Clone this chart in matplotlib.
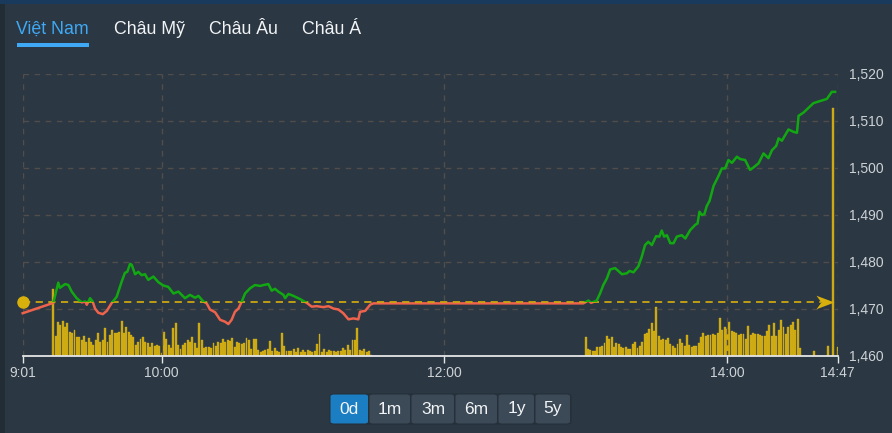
import numpy as np
import matplotlib
matplotlib.use("Agg")
import matplotlib.pyplot as plt
from matplotlib.patches import Rectangle, FancyBboxPatch
from matplotlib.path import Path

plt.rcParams['font.family'] = ['Liberation Sans', 'DejaVu Sans']

# ---------------- data ----------------
ref_price = 1471.4  # reference (previous close)

# minutes after 9:00 and index level
price_minutes = [1.0, 14.0, 16.1, 16.8, 19.0, 20.4, 21.8, 23.9, 26.1, 27.5, 28.2, 29.6, 30.7, 31.7,
                 33.1, 35.0, 36.7, 38.8, 40.9, 43.0, 44.4, 45.4, 46.6, 47.3, 48.7, 50.1, 51.5, 52.9,
                 54.3, 56.5, 58.6, 60.7, 62.8, 65.0, 67.1, 69.9, 72.0, 74.2, 75.6, 77.7, 79.1, 80.5,
                 82.7, 84.8, 86.9, 88.3, 89.7, 91.1, 92.6, 94.0, 95.4, 97.5, 99.6, 101.8, 103.2,
                 105.3, 106.7, 108.1, 109.5, 111.7, 112.4, 113.8, 115.9, 118.8, 121.6, 123.7, 125.8,
                 128.6, 130.8, 132.9, 135.0, 137.1, 139.3, 141.4, 143.5, 144.2, 146.4, 148.5, 149.9,
                 239.0, 241.2, 242.3, 244.7, 246.1, 247.5, 249.0, 250.4, 252.5, 255.4, 257.5, 258.6,
                 260.3, 262.4, 263.8, 265.2, 266.6, 268.1, 269.9, 271.3, 272.3, 273.3, 274.5, 275.9,
                 277.3, 278.7, 280.8, 282.3, 284.4, 286.5, 287.5, 288.3, 289.3, 290.4, 291.4, 292.6,
                 294.3, 296.4, 297.8, 299.2, 300.6, 302.1, 304.2, 305.6, 307.7, 309.8, 311.2, 313.4,
                 315.5, 317.6, 319.1, 320.9, 321.9, 323.3, 324.7, 326.1, 328.2, 329.7, 330.4, 332.5,
                 336.7, 342.4, 344.5, 345.9]
prices = [1469.1, 1471.3, 1475.6, 1474.5, 1475.3, 1475.1, 1473.7, 1472.3, 1471.4, 1471.6, 1470.9,
          1472.3, 1471.6, 1470.1, 1469.2, 1468.9, 1469.6, 1471.3, 1472.6, 1475.8, 1477.7, 1477.9,
          1479.6, 1479.4, 1477.4, 1477.9, 1477.2, 1477.4, 1476.2, 1476.9, 1475.7, 1475.0, 1474.7,
          1473.3, 1473.7, 1472.3, 1473.0, 1472.4, 1472.8, 1471.6, 1471.2, 1469.9, 1469.3, 1467.7,
          1467.3, 1466.8, 1467.7, 1469.4, 1470.1, 1471.6, 1473.3, 1474.4, 1475.1, 1474.9, 1475.1,
          1475.3, 1473.9, 1474.3, 1473.7, 1473.0, 1472.3, 1473.2, 1472.8, 1472.1, 1471.3, 1470.5,
          1470.6, 1470.4, 1470.6, 1470.1, 1469.9, 1469.1, 1467.8, 1468.0, 1467.8, 1469.4, 1469.6,
          1470.9, 1471.2,
          1471.2, 1471.8, 1471.3, 1471.8, 1473.3, 1475.1, 1476.5, 1478.4, 1478.7, 1477.4, 1477.6,
          1478.1, 1477.8, 1479.1, 1481.1, 1483.6, 1484.3, 1483.6, 1485.5, 1485.4, 1486.7, 1485.4,
          1485.7, 1484.0, 1484.0, 1485.4, 1485.7, 1485.0, 1486.8, 1487.9, 1488.2, 1490.7, 1490.0,
          1490.2, 1491.9, 1493.0, 1496.2, 1498.3, 1499.9, 1499.9, 1501.7, 1501.1, 1502.4, 1501.9,
          1501.7, 1499.6, 1500.1, 1501.0, 1503.1, 1502.1, 1503.8, 1504.7, 1506.3, 1505.8, 1507.0,
          1508.2, 1507.7, 1507.5, 1511.1, 1511.8, 1513.8, 1514.7, 1516.2, 1516.2]

# per-minute volume (relative units)
vol_am_start = 14
vol_am = [67, 20, 34, 31, 35, 29, 33, 24, 23, 26, 19, 19, 16, 20, 14, 18, 14, 11, 16, 23, 14, 16,
          28, 14, 21, 26, 23, 23, 24, 35, 23, 29, 24, 21, 19, 11, 14, 17, 19, 14, 13, 9, 13, 10,
          11, 10, 3,
          24, 17, 11, 8, 28, 33, 11, 7, 11, 13, 16, 14, 19, 13, 8, 33, 16, 8, 9, 9, 8, 13, 10, 14,
          13, 17, 14, 16,
          15, 18, 9, 14, 13, 12, 13, 18, 16, 7, 17, 17, 6, 4, 5, 6, 7, 15, 5, 8, 5, 4, 23, 10, 5,
          5, 5, 7, 4, 8, 4, 6, 4, 6, 5, 4, 5, 12, 22, 4, 7, 4, 6, 5, 5, 4, 5, 5, 8, 6, 11, 6, 16,
          16, 28, 6, 5, 7, 4, 5, 1]
vol_pm_start = 240
vol_pm = [19, 7, 6, 5, 5, 9, 9, 10, 13, 20, 17, 19, 9, 13, 12, 9, 8, 9, 7, 7,
          12, 14, 8, 10, 14, 22, 23, 27, 33, 25, 49, 20, 16, 17, 16, 18, 12, 10, 8, 12,
          17, 13, 10, 21, 11, 9, 10, 10, 13, 19, 23, 20, 21, 21, 22, 21, 23, 38, 26, 29,
          27, 34, 25, 24, 23, 21, 22, 22, 17, 30, 21, 23, 22, 22, 21, 20, 20, 25, 31, 20,
          33, 20, 26, 36, 29, 22, 29, 31, 34, 26, 37]
vol_tail_minutes = [331, 337, 343, 345, 347]
vol_tail = [8, 5, 10, 248, 9]

tick_minutes = [1, 60, 180, 300, 347]
tick_labels = ["9:01", "10:00", "12:00", "14:00", "14:47"]
y_ticks = [1460, 1470, 1480, 1490, 1500, 1510, 1520]

tabs = ["Việt Nam", "Châu Mỹ", "Châu Âu", "Châu Á"]
periods = ["0d", "1m", "3m", "6m", "1y", "5y"]

# ---------------- style ----------------
W, H = 892, 433
BG = '#2b3742'
GREEN = '#12a812'
RED = '#ef634c'
GOLD = '#cba60e'
GRID = '#514d4a'
TXT = '#cdd2d6'

fig = plt.figure(figsize=(W / 100, H / 100), dpi=100)
fig.patch.set_facecolor(BG)


def fx(x):
    return x / W


def fy(y):
    return 1 - y / H


# frame strips
fig.add_artist(Rectangle((0, 0), fx(5), 1, transform=fig.transFigure, color='#222c35', lw=0))
fig.add_artist(Rectangle((0, fy(4)), 1, 4 / H, transform=fig.transFigure, color='#193a5c', lw=0))

# axes
ax = fig.add_axes([fx(22.7), fy(356), 815 / W, 282 / H])
ax2 = ax.twinx()
ax.set_zorder(2)
ax2.set_zorder(1)
ax.patch.set_visible(False)
ax2.axis('off')

ax.set_xlim(1, 347)
ax.set_ylim(1460, 1520)
ax2.set_ylim(0, 282)

# volume bars
am_minutes = np.arange(vol_am_start, vol_am_start + len(vol_am))
pm_minutes = np.arange(vol_pm_start, vol_pm_start + len(vol_pm))
bar_kw = dict(width=0.82, color=GOLD, edgecolor='#dcba26', linewidth=0.25)
ax2.bar(am_minutes, vol_am, **bar_kw)
ax2.bar(pm_minutes, vol_pm, **bar_kw)
ax2.bar(vol_tail_minutes, vol_tail, **bar_kw)

# grid
ax.set_xticks(tick_minutes)
ax.set_xticklabels(tick_labels)
ax.set_yticks(y_ticks)
ax.set_yticklabels([f"{v:,}" for v in y_ticks])
ax.grid(True, color=GRID, linestyle=(0, (4, 4)), linewidth=1.0)
ax.yaxis.tick_right()
for s in ['top', 'left', 'right']:
    ax.spines[s].set_visible(False)
ax.spines['bottom'].set_color('#e6e6e6')
ax.spines['bottom'].set_linewidth(1.3)
ax.tick_params(axis='x', colors='#e6e6e6', length=5, width=1, labelcolor=TXT, labelsize=10, pad=2)
ax.tick_params(axis='y', length=0, labelcolor=TXT, labelsize=10, pad=8)

# reference line, dot, arrow
ax.plot([1, 340], [ref_price, ref_price], color=GOLD, lw=1.3, ls=(0, (4, 3)), zorder=3)
ax.plot([1], [ref_price], 'o', ms=8, color='#d8b00c', clip_on=False, zorder=5)
arrow = Path([(-1, 0.75), (1, 0), (-1, -0.75), (-0.45, 0), (-1, 0.75)],
             [Path.MOVETO, Path.LINETO, Path.LINETO, Path.LINETO, Path.CLOSEPOLY])
ax.plot([341.7], [ref_price], marker=arrow, ms=13, color='#d8b00c', mew=0, zorder=5, clip_on=False)

# price line coloured by position versus reference
lg, = ax.plot(price_minutes, prices, color=GREEN, lw=1.8, zorder=4, solid_joinstyle='round')
lr, = ax.plot(price_minutes, prices, color=RED, lw=1.8, zorder=2.5, solid_joinstyle='round')
lg.set_clip_path(Rectangle((-100, ref_price), 1000, 1000, transform=ax.transData))
lr.set_clip_path(Rectangle((-100, ref_price - 1000), 1000, 1000, transform=ax.transData))

# tabs
tab_x = [16, 114, 209, 302]
for i, (t, x) in enumerate(zip(tabs, tab_x)):
    fig.text(fx(x), fy(29), t, ha='left', va='center', fontsize=12.8,
             color='#3fa9f5' if i == 0 else '#f2f4f6')
fig.add_artist(Rectangle((fx(17), fy(47)), 72 / W, 4 / H, transform=fig.transFigure,
                         color='#3fa9f5', lw=0))

# period buttons
btn_edges = [330, 369, 411, 455, 498, 535, 571]
fig.add_artist(FancyBboxPatch((fx(330), fy(424)), 241 / W, 30 / H,
                              boxstyle="round,pad=0,rounding_size=0.006",
                              transform=fig.transFigure, fc='#25303a', ec='#25303a', lw=1))
for i, p in enumerate(periods):
    x0, x1 = btn_edges[i], btn_edges[i + 1]
    fc = '#1b7dc2' if i == 0 else '#3c4a57'
    fig.add_artist(FancyBboxPatch((fx(x0 + 0.5), fy(423.5)), (x1 - x0 - 1.5) / W, 29 / H,
                                  boxstyle="round,pad=0,rounding_size=0.004",
                                  transform=fig.transFigure, fc=fc, ec='none'))
    fig.text(fx((x0 + x1) / 2), fy(409), p, ha='center', va='center', fontsize=12.5, color='#f2f4f6')

fig.savefig('out.png', dpi=100, facecolor=fig.get_facecolor())
